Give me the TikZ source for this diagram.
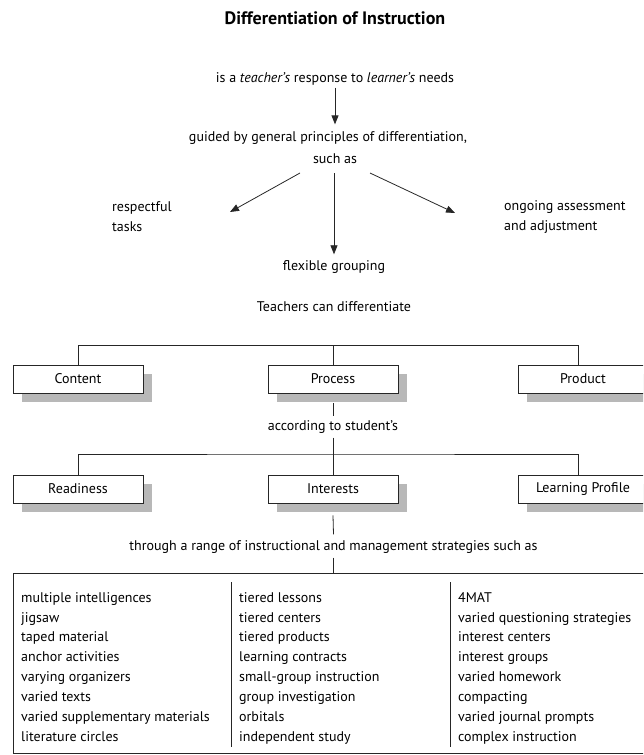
\documentclass[tikz,border=0pt]{standalone}
\usepackage{fontspec}
\setmainfont{PT Sans}
\usetikzlibrary{arrows.meta,shadows}
\begin{document}
\begin{tikzpicture}[x=1pt,y=-1pt,
  every node/.style={inner sep=0pt,font=\fontsize{14}{20}\selectfont},
  wire/.style={draw=black!85,line width=0.8pt},
  arr/.style={wire,-{Triangle[length=9pt,width=7pt]}},
  catbox/.style={draw=black!85,line width=0.8pt,fill=white,
    minimum width=130pt,minimum height=28pt,
    drop shadow={shadow xshift=9pt,shadow yshift=-9pt,fill=black!28,opacity=1}},
  strat/.style={align=left,anchor=north west,font=\fontsize{14}{19.9}\selectfont}]
\useasboundingbox (0,0) rectangle (643,755);
\clip (0,0) rectangle (643,755);

% heading and the principles
\node (title) at (335,18) {\fontsize{18}{22}\selectfont\bfseries Differentiation of Instruction};
\node (resp) at (335,79) {is a \textit{teacher’s} response to \textit{learner’s} needs};
\node (guided) at (328,138) {guided by general principles of differentiation,};
\node (suchas) at (335,159) {such as};
\node[align=left,anchor=west] (respect) at (112,217) {respectful\\tasks};
\node[align=left,anchor=west] (ongoing) at (504,217) {ongoing assessment\\and adjustment};
\node (flex) at (334,267) {flexible grouping};

\draw[arr] ([yshift=-2pt]resp.south -| suchas) -- ([yshift=7pt]guided.north -| suchas);
\coordinate (fromL) at (300,173);
\coordinate (fromM) at (334,173);
\coordinate (fromR) at (370,173);
\coordinate (toL) at (230,212);
\coordinate (toR) at (455,213);
\draw[arr] (fromL) -- (toL);
\draw[arr] (fromM) -- ([yshift=6pt]flex.north -| fromM);
\draw[arr] (fromR) -- (toR);

% what can be differentiated
\node (teach) at (334,307) {Teachers can differentiate};
\node[catbox] (content) at (78,379) {Content};
\node[catbox] (process) at (333,379) {Process};
\node[catbox] (product) at (583,379) {Product};
\draw[wire] (process.north) -- ++(0,-19) coordinate (bus1);
\draw[wire] (content.north) |- (bus1) -| ([xshift=-5pt]product.north);

% according to the student
\node (accord) at (333,427) {according to student’s};
\draw[wire] ([yshift=-10pt]process.south) -- ([yshift=4pt]accord.north);
\node[catbox] (ready) at (78,489) {Readiness};
\node[catbox] (interest) at (333,489) {Interests};
\node[catbox] (profile) at (583,489) {Learning Profile};
\draw[wire] ([yshift=-4pt]accord.south) -- (interest.north |- 0,454) coordinate (bus2);
\draw[wire] (interest.north) -- (bus2);
\draw[wire] (ready.north) |- (bus2) -| ([xshift=-5pt]profile.north);

% strategies
\node (through) at (333.5,547) {through a range of instructional and management strategies such as};
\draw[wire] ([yshift=-12pt]interest.south) -- ([yshift=6pt]through.north);
\node[draw=black!85,line width=0.8pt,minimum width=647pt,minimum height=180pt,anchor=north west] (box) at (13,573) {};
\draw[wire] ([yshift=-4pt]through.south) -- (through.south |- box.north);
\coordinate (sepA) at (231,582);
\coordinate (sepB) at (450,582);
\draw[wire] (sepA) -- ++(0,165);
\draw[wire] (sepB) -- ++(0,165);

\node[strat] (colA) at (21,592) {multiple intelligences\\jigsaw\\taped material\\anchor activities\\varying organizers\\varied texts\\varied supplementary materials\\literature circles};
\node[strat] (colB) at (239,592) {tiered lessons\\tiered centers\\tiered products\\learning contracts\\small-group instruction\\group investigation\\orbitals\\independent study};
\node[strat] (colC) at (458,592) {4MAT\\varied questioning strategies\\interest centers\\interest groups\\varied homework\\compacting\\varied journal prompts\\complex instruction};
\end{tikzpicture}
\end{document}
